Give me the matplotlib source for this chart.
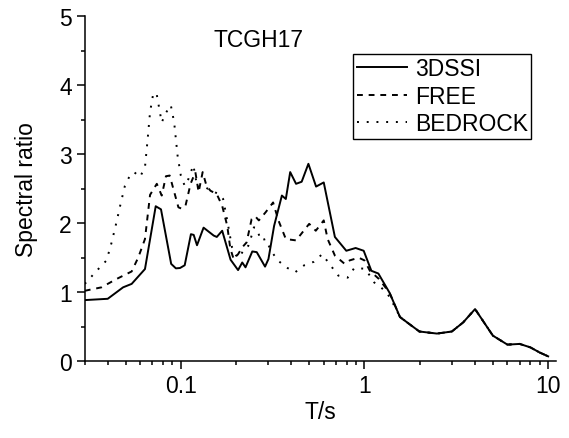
import matplotlib
matplotlib.use("Agg")
import matplotlib.pyplot as plt
from matplotlib.ticker import FixedLocator, MultipleLocator, NullFormatter

plt.rcParams['font.family'] = ['Liberation Sans', 'DejaVu Sans']

# periods (s) and spectral ratios
t_3dssi = [0.03, 0.04, 0.0485, 0.054, 0.0638, 0.073, 0.078, 0.0886, 0.094, 0.099,
           0.105, 0.1135, 0.1175, 0.1225, 0.133, 0.151, 0.157, 0.168, 0.1866, 0.205,
           0.216, 0.225, 0.245, 0.259, 0.2875, 0.30, 0.322, 0.355, 0.373, 0.394,
           0.424, 0.455, 0.495, 0.545, 0.60, 0.69, 0.796, 0.895, 0.99, 1.09,
           1.19, 1.37, 1.56, 1.73, 1.99, 2.48, 2.99, 3.44, 4.0, 5.0,
           6.0, 7.0, 8.0, 9.0, 10.0]
r_3dssi = [0.885, 0.904, 1.07, 1.12, 1.335, 2.245, 2.2, 1.41, 1.345, 1.35,
           1.39, 1.84, 1.83, 1.68, 1.935, 1.82, 1.80, 1.89, 1.47, 1.32,
           1.43, 1.36, 1.59, 1.58, 1.37, 1.48, 1.96, 2.40, 2.35, 2.74,
           2.57, 2.60, 2.86, 2.53, 2.59, 1.80, 1.60, 1.64, 1.60, 1.31,
           1.27, 0.99, 0.64, 0.55, 0.43, 0.40, 0.43, 0.56, 0.755, 0.37,
           0.24, 0.25, 0.20, 0.125, 0.07]

t_free = [0.03, 0.037, 0.0446, 0.054, 0.0587, 0.0638, 0.068, 0.074, 0.0787, 0.083,
          0.087, 0.097, 0.101, 0.106, 0.113, 0.12, 0.125, 0.1315, 0.138, 0.145,
          0.157, 0.168, 0.179, 0.186, 0.194, 0.205, 0.216, 0.228, 0.243, 0.254,
          0.266, 0.29, 0.318, 0.34, 0.373, 0.424, 0.5, 0.543, 0.6, 0.63,
          0.69, 0.78, 0.83, 0.93, 1.0, 1.07, 1.2, 1.37, 1.56, 1.73,
          1.99, 2.48, 2.99, 3.44, 4.0, 5.0, 6.0, 7.0, 8.0, 9.0, 10.0]
r_free = [1.02, 1.07, 1.19, 1.30, 1.505, 1.77, 2.41, 2.57, 2.40, 2.68,
          2.69, 2.23, 2.21, 2.25, 2.57, 2.74, 2.45, 2.74, 2.54, 2.47,
          2.42, 2.25, 1.96, 1.63, 1.48, 1.55, 1.65, 1.72, 2.06, 2.10,
          2.04, 2.16, 2.30, 2.04, 1.77, 1.75, 1.99, 1.89, 2.04, 1.77,
          1.53, 1.41, 1.46, 1.50, 1.46, 1.31, 1.19, 0.99, 0.64, 0.55,
          0.43, 0.40, 0.43, 0.56, 0.755, 0.37, 0.24, 0.25, 0.20, 0.125, 0.07]

t_bedrock = [0.03, 0.0354, 0.0394, 0.042, 0.0446, 0.047, 0.0496, 0.0528, 0.0556, 0.06,
             0.0638, 0.066, 0.068, 0.0709, 0.074, 0.0787, 0.083, 0.0882, 0.092, 0.096,
             0.1, 0.105, 0.11, 0.117, 0.123, 0.13, 0.14, 0.161, 0.17, 0.18,
             0.19, 0.2, 0.21, 0.22, 0.233, 0.243, 0.25, 0.26, 0.272, 0.29,
             0.31, 0.337, 0.381, 0.42, 0.47, 0.53, 0.588, 0.67, 0.72, 0.81,
             0.88, 1.0, 1.07, 1.13, 1.23, 1.34, 1.47, 1.56, 1.73, 1.99,
             2.48, 2.99, 3.44, 4.0, 5.0, 6.0, 7.0, 8.0, 9.0, 10.0]
r_bedrock = [1.12, 1.33, 1.46, 1.72, 2.01, 2.28, 2.54, 2.69, 2.74, 2.67,
             2.81, 3.22, 3.61, 3.89, 3.86, 3.46, 3.60, 3.71, 3.46, 2.98,
             2.69, 2.54, 2.64, 2.84, 2.52, 2.55, 2.50, 2.42, 2.35, 2.00,
             1.65, 1.53, 1.50, 1.63, 1.67, 1.82, 1.94, 1.92, 1.75, 1.77,
             1.60, 1.46, 1.35, 1.29, 1.39, 1.44, 1.55, 1.35, 1.24, 1.21,
             1.35, 1.34, 1.24, 1.14, 1.07, 0.97, 0.78, 0.64, 0.55, 0.43,
             0.40, 0.43, 0.56, 0.755, 0.37, 0.24, 0.25, 0.20, 0.125, 0.07]

fig = plt.figure(figsize=(5.69, 4.39), dpi=100)
ax = fig.add_axes([0.149, 0.175, 0.829, 0.786])

ax.plot(t_3dssi, r_3dssi, color='black', lw=1.4, label='3DSSI')
ax.plot(t_free, r_free, color='black', lw=1.4, dashes=(3, 3), label='FREE')
ax.plot(t_bedrock, r_bedrock, color='black', lw=1.4, dashes=(1, 4), label='BEDROCK')

ax.set_xscale('log')
ax.set_xlim(0.03, 11.1)
ax.set_ylim(0, 5)
ax.xaxis.set_major_locator(FixedLocator([0.1, 1, 10]))
ax.set_xticklabels(['0.1', '1', '10'])
minor = [m * d for d in (0.01, 0.1, 1) for m in range(2, 10) if 0.03 <= m * d <= 11]
ax.xaxis.set_minor_locator(FixedLocator(minor))
ax.xaxis.set_minor_formatter(NullFormatter())
ax.yaxis.set_major_locator(MultipleLocator(1))
ax.yaxis.set_minor_locator(MultipleLocator(0.5))

ax.spines['top'].set_visible(False)
ax.spines['right'].set_visible(False)
for s in ('left', 'bottom'):
    ax.spines[s].set_linewidth(1.1)
ax.tick_params(which='major', direction='out', length=5.8, width=1.1, labelsize=16.5, pad=3.5)
ax.tick_params(which='minor', direction='out', length=3, width=1.1)

ax.set_xlabel('T/s', fontsize=16.5, labelpad=2)
ax.set_ylabel('Spectral ratio', fontsize=16.5, labelpad=15)
ax.text(0.369, 0.931, 'TCGH17', transform=ax.transAxes, fontsize=16.5,
        ha='center', va='center')

leg = ax.legend(loc='upper right', bbox_to_anchor=(0.947, 0.891), fontsize=16.5,
                handlelength=2.2, handletextpad=0.35, borderpad=0.15,
                labelspacing=0.2, borderaxespad=0, fancybox=False,
                framealpha=1, edgecolor='black')
leg.get_frame().set_linewidth(1.0)

fig.savefig('out.png', dpi=100)
